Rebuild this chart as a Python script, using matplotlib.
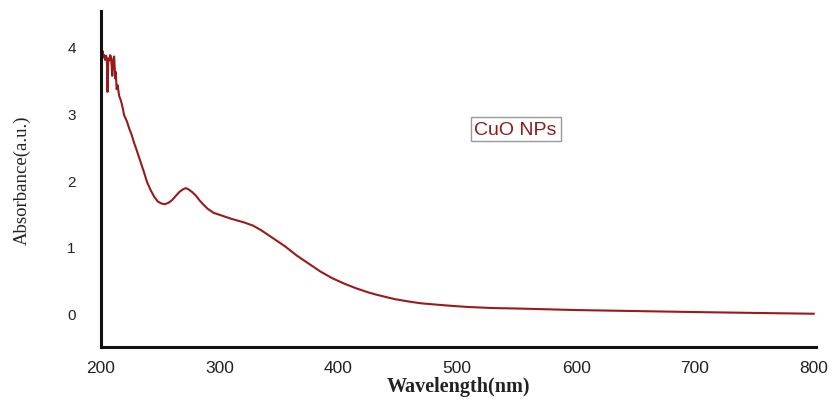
import numpy as np
import matplotlib
matplotlib.use("Agg")
import matplotlib.pyplot as plt

# UV-Vis spectrum of CuO NPs
wavelength = [200.0, 200.8, 201.6, 202.4, 202.9, 203.6, 204.6, 205.2, 205.7, 206.3,
              207.2, 208.0, 208.6, 209.2, 209.7, 210.5, 211.3, 212.2, 212.6, 213.4,
              214.2, 215.5, 217.0, 218.5, 219.7, 222.0, 224.0, 226.0, 228.0, 230.0,
              233.0, 236.0, 239.0, 242.0, 245.0, 248.0, 251.0, 254.0, 257.0, 260.0,
              263.0, 266.0, 269.0, 271.5, 274.0, 277.0, 280.0, 283.0, 286.0, 290.0,
              295.0, 300.0, 310.0, 320.0, 328.0, 335.0, 345.0, 355.0, 365.0, 375.0,
              385.0, 395.0, 405.0, 415.0, 425.0, 432.0, 440.0, 447.0, 455.0, 462.0,
              470.0, 480.0, 490.0, 500.0, 510.0, 530.0, 550.0, 600.0, 650.0, 700.0,
              750.0, 800.0]
absorbance = [3.95, 3.88, 3.93, 3.84, 3.87, 3.80, 3.86, 3.78, 3.32, 3.82,
              3.79, 3.87, 3.84, 3.70, 3.56, 3.80, 3.85, 3.52, 3.62, 3.36,
              3.42, 3.26, 3.19, 3.08, 2.97, 2.88, 2.77, 2.68, 2.56, 2.46,
              2.30, 2.14, 1.97, 1.85, 1.75, 1.68, 1.65, 1.64, 1.66, 1.70,
              1.76, 1.82, 1.86, 1.88, 1.86, 1.82, 1.77, 1.70, 1.64, 1.57,
              1.51, 1.48, 1.42, 1.37, 1.32, 1.25, 1.13, 1.01, 0.87, 0.75,
              0.63, 0.53, 0.45, 0.38, 0.32, 0.285, 0.25, 0.22, 0.195, 0.175,
              0.155, 0.14, 0.125, 0.112, 0.10, 0.085, 0.078, 0.055, 0.04, 0.025,
              0.012, 0.0]

xticks = [200, 300, 400, 500, 600, 700, 800]
yticks = [0, 1, 2, 3, 4]

fig = plt.figure(figsize=(8.36, 4.02), dpi=100)
ax = fig.add_axes([0.1205, 0.134, 0.8557, 0.836])

ax.plot(wavelength, absorbance, color="#9a1a1a", linewidth=1.5)

ax.set_xlim(200, 802)
ax.set_ylim(-0.5, 4.53)
ax.set_xticks(xticks)
ax.set_yticks(yticks)
ax.set_xticklabels([str(t) for t in xticks], fontfamily="Liberation Sans", fontsize=12.5, color="#222222")
ax.set_yticklabels([str(t) for t in yticks], fontfamily="Liberation Sans", fontsize=11, color="#222222")
ax.tick_params(axis="both", length=0)
ax.tick_params(axis="x", pad=9)
ax.tick_params(axis="y", pad=18)

for side in ["top", "right"]:
    ax.spines[side].set_visible(False)
for side in ["left", "bottom"]:
    ax.spines[side].set_linewidth(2.2)
    ax.spines[side].set_color("#111111")

ax.set_xlabel("Wavelength(nm)", fontfamily="Liberation Serif", fontweight="bold",
              fontsize=14.5, color="#222222", labelpad=1)
ax.set_ylabel("Absorbance(a.u.)", fontfamily="Liberation Serif", fontsize=13.5,
              color="#222222", labelpad=26)

ax.text(0.58, 0.649, "CuO NPs", transform=ax.transAxes, ha="center", va="center",
        fontfamily="Liberation Sans", fontsize=14, color="#8e1a1a",
        bbox=dict(boxstyle="square,pad=0.2", facecolor="white", edgecolor="#999999", linewidth=1))

fig.savefig("out.png", dpi=100)
